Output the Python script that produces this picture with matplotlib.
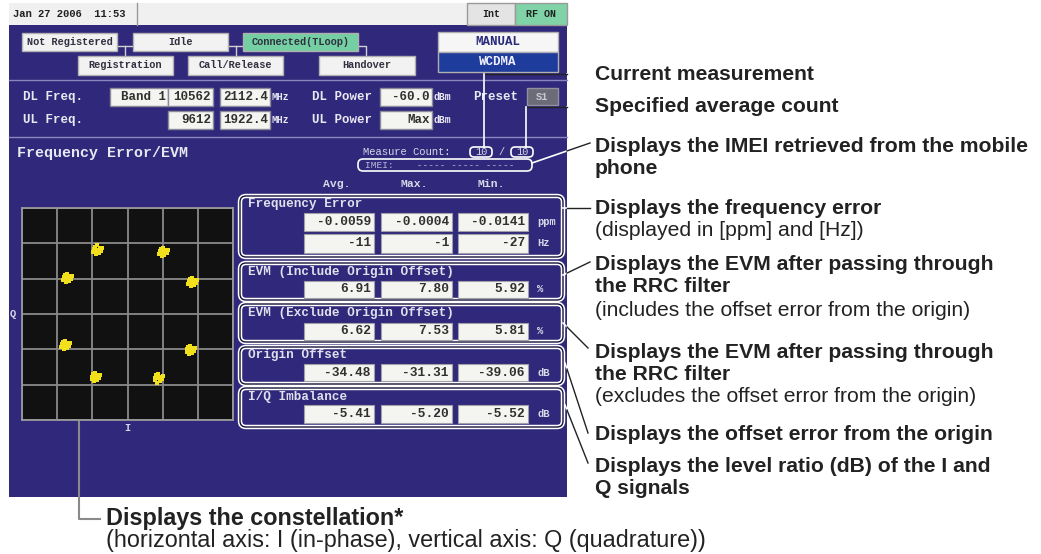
import matplotlib
matplotlib.use("Agg")
import matplotlib.pyplot as plt
from matplotlib.patches import Rectangle, FancyBboxPatch

columns = ["Avg.", "Max.", "Min."]
freq_err_ppm = [-0.0059, -0.0004, -0.0141]
freq_err_hz = [-11, -1, -27]
evm_include = [6.91, 7.80, 5.92]
evm_exclude = [6.62, 7.53, 5.81]
origin_offset = [-34.48, -31.31, -39.06]
iq_imbalance = [-5.41, -5.20, -5.52]
measure_count = 10
average_count = 10

# constellation symbol centres (I, Q) in grid units
symbol_i = [-0.87, 1.00, -1.72, 1.83, -1.78, 1.78, -0.92, 0.87]
symbol_q = [1.82, 1.76, 1.02, 0.91, -0.88, -1.02, -1.79, -1.82]
# scatter of samples around each symbol (hand placed)
blob_di = [0.00, 0.08, -0.08, 0.05, -0.05, 0.12, 0.00, -0.10, 0.15, -0.03]
blob_dq = [0.00, 0.05, 0.02, -0.08, 0.09, -0.03, 0.12, -0.06, 0.06, -0.12]

notes = [
    (74, ["Current measurement"], []),
    (107, ["Specified average count"], []),
    (147, ["Displays the IMEI retrieved from the mobile", "phone"], []),
    (208, ["Displays the frequency error"], ["(displayed in [ppm] and [Hz])"]),
    (265, ["Displays the EVM after passing through", "the RRC filter"],
     ["(includes the offset error from the origin)"]),
    (352, ["Displays the EVM after passing through", "the RRC filter"],
     ["(excludes the offset error from the origin)"]),
    (435, ["Displays the offset error from the origin"], []),
    (467, ["Displays the level ratio (dB) of the I and", "Q signals"], []),
]

W, H = 1041, 554
BG = "#30287a"
TXT = "#e8e8f2"
MONO = "Liberation Mono"
SANS = "Liberation Sans"
SCR_R = 567

fig = plt.figure(figsize=(W / 100, H / 100), dpi=100)
ax = fig.add_axes([0, 0, 1, 1])
ax.set_xlim(0, W)
ax.set_ylim(H, 0)
ax.axis("off")


def box(x0, y0, x1, y1, fc, ec="#8a8a9a", lw=1.0, z=2):
    ax.add_patch(Rectangle((x0, y0), x1 - x0, y1 - y0, fc=fc, ec=ec, lw=lw, zorder=z))


def mtext(x, y, s, size=7.5, color=TXT, ha="left", weight="bold", z=5):
    ax.text(x, y, s, fontsize=size, color=color, ha=ha, va="center",
            family=MONO, weight=weight, zorder=z)


def leader(pts):
    # white on the screen, black outside it
    for (xa, ya), (xb, yb) in zip(pts[:-1], pts[1:]):
        if max(xa, xb) <= SCR_R:
            ax.plot([xa, xb], [ya, yb], color="white", lw=1.2, zorder=6)
        elif min(xa, xb) >= SCR_R:
            ax.plot([xa, xb], [ya, yb], color="#222222", lw=1.0, zorder=6)
        else:
            t = (SCR_R - xa) / (xb - xa)
            ym = ya + t * (yb - ya)
            ax.plot([xa, SCR_R], [ya, ym], color="white", lw=1.2, zorder=6)
            ax.plot([SCR_R, xb], [ym, yb], color="#222222", lw=1.0, zorder=6)


# screen background
box(9, 3, SCR_R, 497, BG, ec="none", z=1)

# status bar
box(9, 3, SCR_R, 25, "#f0f0f0", ec="none")
ax.plot([137, 137], [3, 25], color="#9a9a9a", lw=1, zorder=3)
box(467, 3, 515, 25, "#e4e4e4", ec="#9a9a9a")
box(515, 3, SCR_R, 25, "#7fd3a6", ec="#9a9a9a")
mtext(13, 14, "Jan 27 2006  11:53", 7.6, "#202020")
mtext(491, 14, "Int", 7.2, "#202020", ha="center")
mtext(541, 14, "RF ON", 7.2, "#202020", ha="center")

# call state buttons
btn_fc = "#f2f2f2"
ax.plot([117, 133], [46, 46], color="#d0d0d0", lw=1, zorder=1.5)
ax.plot([125, 125], [46, 55], color="#d0d0d0", lw=1, zorder=1.5)
ax.plot([228, 243], [46, 46], color="#d0d0d0", lw=1, zorder=1.5)
ax.plot([236, 236], [46, 55], color="#d0d0d0", lw=1, zorder=1.5)
ax.plot([358, 366, 366], [46, 46, 55], color="#d0d0d0", lw=1, zorder=1.5)
for x0, x1, y0, y1, lab, fc in [
    (22, 117, 33, 51, "Not Registered", btn_fc),
    (133, 228, 33, 51, "Idle", btn_fc),
    (243, 358, 33, 51, "Connected(TLoop)", "#74d0a2"),
    (78, 173, 56, 75, "Registration", btn_fc),
    (188, 283, 56, 75, "Call/Release", btn_fc),
    (319, 415, 56, 75, "Handover", btn_fc),
]:
    box(x0, y0, x1, y1, fc, ec="#b0b0b0")
    mtext((x0 + x1) / 2, (y0 + y1) / 2, lab, 7.4, "#303040", ha="center")

box(438, 32, 558, 52, "#f6f6f6", ec="#b0b0b0")
mtext(498, 42, "MANUAL", 9, "#2a2a7a", ha="center")
box(438, 52, 558, 72, "#1e3c9c", ec="#b0b0b0")
mtext(498, 62, "WCDMA", 9, "#f0f0ff", ha="center")

ax.plot([9, SCR_R], [80, 80], color="#8c86c0", lw=1, zorder=2)
ax.plot([9, SCR_R], [137, 137], color="#8c86c0", lw=1, zorder=2)

# frequency / power rows
fld = "#f4f4f0"
mtext(23, 97, "DL Freq.", 9)
mtext(23, 120, "UL Freq.", 9)
box(110, 88, 168, 106, fld)
mtext(166, 97, "Band 1", 9, "#303030", ha="right")
box(168, 88, 213, 106, fld)
mtext(211, 97, "10562", 9, "#303030", ha="right")
box(220, 88, 270, 106, fld)
mtext(268, 97, "2112.4", 9, "#303030", ha="right")
mtext(272, 97, "MHz", 7, TXT)
box(168, 111, 213, 129, fld)
mtext(211, 120, "9612", 9, "#303030", ha="right")
box(220, 111, 270, 129, fld)
mtext(268, 120, "1922.4", 9, "#303030", ha="right")
mtext(272, 120, "MHz", 7, TXT)

mtext(312, 97, "DL Power", 9)
mtext(312, 120, "UL Power", 9)
box(380, 88, 432, 106, fld)
mtext(430, 97, "-60.0", 9, "#303030", ha="right")
mtext(434, 97, "dBm", 7, TXT)
box(380, 111, 432, 129, fld)
mtext(430, 120, "Max", 9, "#303030", ha="right")
mtext(434, 120, "dBm", 7, TXT)
mtext(473, 97, "Preset", 9)
box(527, 88, 558, 105, "#6c6c78", ec="#9090a0")
mtext(542, 97, "S1", 7.5, "#c8c8d0", ha="center")

# measurement page
mtext(17, 153, "Frequency Error/EVM", 10.8)
mtext(363, 152, "Measure Count:", 7.6, "#d8d8e8", weight="normal")
for xc, v in [(481, measure_count), (522, average_count)]:
    ax.add_patch(FancyBboxPatch((xc - 11, 147), 22, 10, boxstyle="round,pad=0,rounding_size=4",
                                fc="none", ec="white", lw=1.2, zorder=4))
    mtext(xc, 152, str(v), 7.4, "#d8d8e8", ha="center", weight="normal")
mtext(501, 152, "/", 7.4, "#d8d8e8", ha="center", weight="normal")
ax.add_patch(FancyBboxPatch((358, 159), 174, 12, boxstyle="round,pad=0,rounding_size=5",
                            fc="none", ec="white", lw=1.2, zorder=4))
mtext(365, 165, "IMEI:    ----- ----- -----", 6.8, "#b8b8d8", weight="normal")

col_x = [(304, 374), (381, 452), (458, 528)]
for (x0, x1), lab in zip(col_x, columns):
    mtext((x0 + x1) / 2 - 2, 184, lab, 8.2, "#d8d8e8", ha="center")

groups = [
    ("Frequency Error", 196, 257, 204,
     [([f"{v:.4f}" for v in freq_err_ppm], "ppm", 213, 231),
      ([f"{v:d}" for v in freq_err_hz], "Hz", 234, 253)]),
    ("EVM (Include Origin Offset)", 263, 300, 272,
     [([f"{v:.2f}" for v in evm_include], "%", 281, 298)]),
    ("EVM (Exclude Origin Offset)", 304, 342, 313,
     [([f"{v:.2f}" for v in evm_exclude], "%", 323, 340)]),
    ("Origin Offset", 347, 384, 355,
     [([f"{v:.2f}" for v in origin_offset], "dB", 364, 381)]),
    ("I/Q Imbalance", 388, 427, 397,
     [([f"{v:.2f}" for v in iq_imbalance], "dB", 405, 423)]),
]
for title, gy0, gy1, ty, rows in groups:
    for ec, lw in [("white", 3.2), ("#15123a", 1.0)]:
        ax.add_patch(FancyBboxPatch((240, gy0), 323, gy1 - gy0,
                                    boxstyle="round,pad=0,rounding_size=6",
                                    fc="none", ec=ec, lw=lw, zorder=3))
    mtext(248, ty, title, 9.1, "#e0e0ec")
    for vals, unit, ry0, ry1 in rows:
        for (x0, x1), s in zip(col_x, vals):
            box(x0, ry0, x1, ry1, fld, ec="#a0a0a8", lw=0.8, z=4)
            mtext(x1 - 3, (ry0 + ry1) / 2, s, 9.3, "#303030", ha="right")
        mtext(537, (ry0 + ry1) / 2, unit, 7.5, "#d8d8e8")

# constellation
cax = fig.add_axes([22 / W, 1 - 420 / H, 211 / W, 212 / H])
cax.set_facecolor("#111111")
cax.set_xlim(-3, 3)
cax.set_ylim(-3, 3)
cax.set_xticks(range(-3, 4))
cax.set_yticks(range(-3, 4))
cax.grid(True, color="#8a8a8a", lw=1.3)
cax.tick_params(length=0, labelbottom=False, labelleft=False)
for sp in cax.spines.values():
    sp.set_color("#9a9a9a")
    sp.set_linewidth(1.3)
for si, sq in zip(symbol_i, symbol_q):
    cax.scatter([si + d for d in blob_di], [sq + d for d in blob_dq],
                s=12, marker="s", color="#f2e01c", lw=0, zorder=3)
mtext(13, 314, "Q", 7.5, "#d8d8e8", ha="center")
mtext(127, 428, "I", 7.5, "#d8d8e8", ha="center")

# callout lines
leader([(590, 74), (484, 74), (484, 147)])
leader([(590, 107), (526, 107), (526, 147)])
leader([(532, 163), (590, 143)])
leader([(563, 208), (590, 208)])
leader([(563, 275), (590, 262)])
leader([(563, 323), (588, 348)])
leader([(565, 363), (588, 433)])
leader([(565, 405), (588, 463)])
ax.plot([79, 79, 100], [403, 519, 519], color="#8a8a8a", lw=1.5, zorder=6)

# callout text
fs = 15.2
for y, bold_lines, plain_lines in notes:
    yy = y
    for s in bold_lines:
        ax.text(595, yy, s, fontsize=fs, weight="bold", family=SANS,
                color="#222222", va="center", ha="left")
        yy += 22
    for s in plain_lines:
        ax.text(595, yy + 1, s, fontsize=fs, family=SANS,
                color="#222222", va="center", ha="left")
        yy += 22

ax.text(106, 519, "Displays the constellation*", fontsize=16.8, weight="bold",
        family=SANS, color="#222222", va="center")
ax.text(106, 541, "(horizontal axis: I (in-phase), vertical axis: Q (quadrature))",
        fontsize=16.8, family=SANS, color="#222222", va="center")

fig.savefig("out.png", dpi=100, facecolor="white")
